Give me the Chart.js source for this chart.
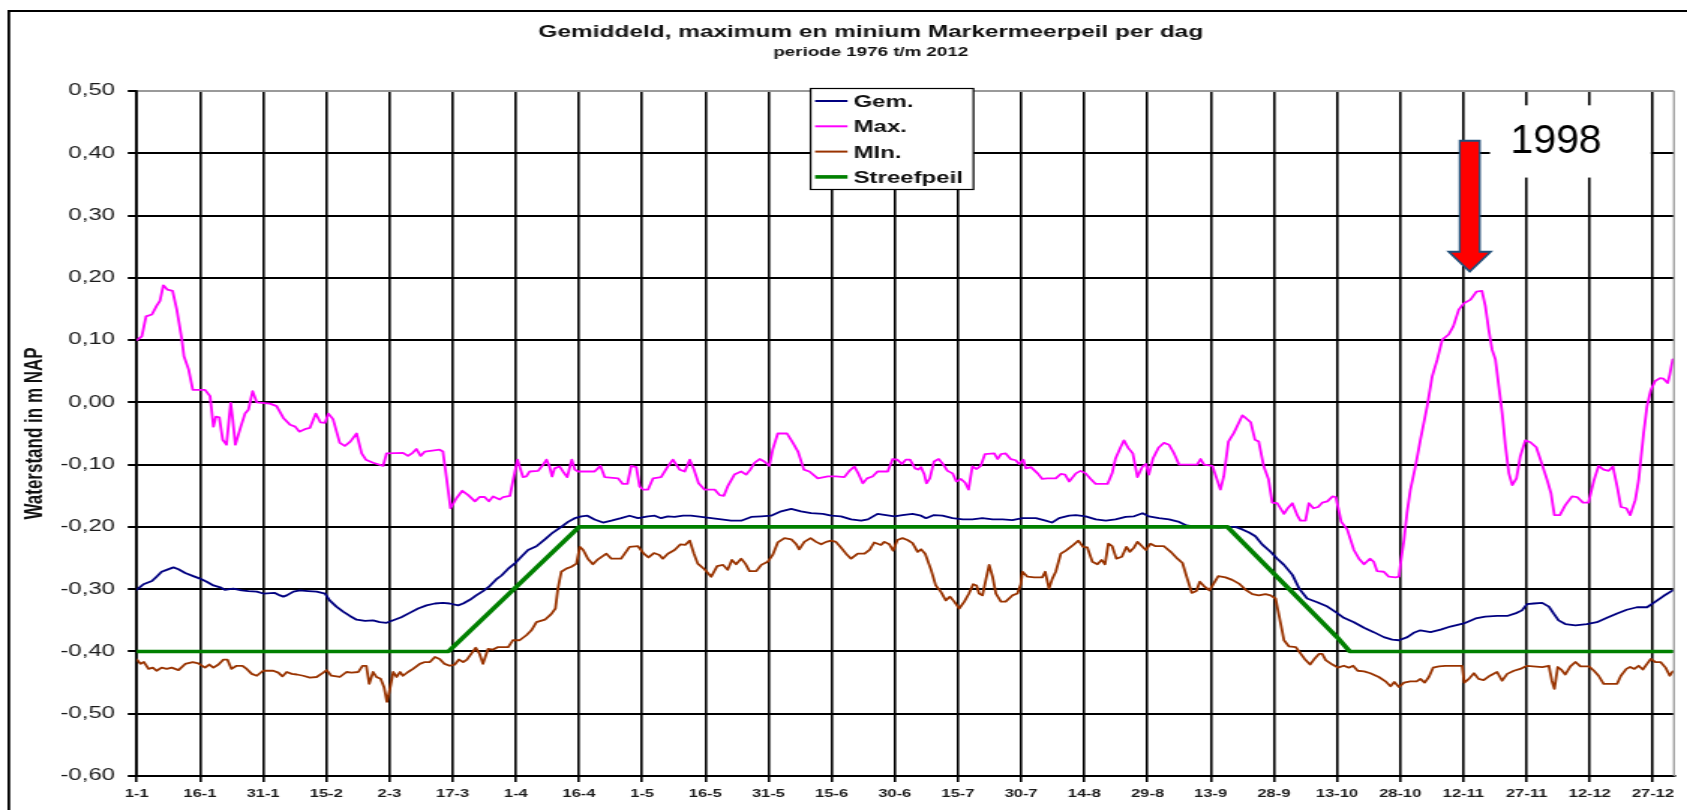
<!DOCTYPE html>
<html lang="nl">
<head>
<meta charset="utf-8">
<title>Markermeerpeil per dag</title>
<script src="https://cdn.jsdelivr.net/npm/chart.js@4.4.1/dist/chart.umd.min.js"></script>
<style>
  html, body { margin: 0; padding: 0; background: #fff; overflow: hidden; }
  /* het origineel is horizontaal uitgerekt (~1.5x) */
  #wrap { width: 1125px; height: 810px; transform: scaleX(1.49956); transform-origin: 0 0; }
</style>
</head>
<body>
<div id="wrap"><canvas id="chart" width="1125" height="810"></canvas></div>
<script>
// ---- data (dagnummer 0 = 1 jan) ----
const xTickLabels = ['1-1','16-1','31-1','15-2','2-3','17-3','1-4','16-4','1-5','16-5','31-5','15-6','30-6',
  '15-7','30-7','14-8','29-8','13-9','28-9','13-10','28-10','12-11','27-11','12-12','27-12'];

const seriesNames = ['Gem.', 'Max.', 'MIn.', 'Streefpeil'];

const gemDays = [0,1.6,3.6,4.7,5.9,7.1,8.7,9.9,11.5,13.4,15,16.6,18.2,19.8,20.9,22.9,24.9,26.5,28.5,30,32.8,34,34.8,35.6,37.2,38.7,40.7,42.7,44.7,45.8,47.4,49,50.6,52.2,54.2,56.1,57.7,59.3,60.9,62.8,64.8,66.8,68.8,70.8,72.7,74.3,76.3,77.5,79.1,80.6,82.2,83.8,85.4,86.6,88.2,89.7,91.3,92.9,94.9,96.9,98.8,100.8,102.4,104,105.6,107,108.7,110.7,112.7,115,117,119,121.4,123,124.5,126.1,127.7,129.7,131.6,134,136.4,138.8,141.1,143.5,145.9,148.3,150.6,153,155.4,157.7,160.1,162.9,164.9,167.2,169.6,172,173.6,175.9,177.9,179.9,181.8,184.2,186.2,187.4,189.3,191.3,193.7,196.1,198.4,200.8,203.2,205.6,207.9,210.3,213.5,215.8,217.3,219,221.4,223,225.3,227.7,230.1,232.4,234.8,236.8,238.8,240.3,242.7,245.1,247.5,249,251.4,254.6,256.9,259.3,260.9,262.5,264.1,265.6,267.2,269.2,270.8,272.4,274.4,276,277.9,280.3,282.7,284.7,286.6,289,291.4,293.7,296.1,298.1,299.7,301.7,303.2,304.8,307.2,309.6,311.9,315.1,317.9,320.2,323,325.4,327.7,328.9,330.1,331.7,333.7,335.3,336.4,337.6,339.2,341.6,344.3,346.7,349.1,351.5,353.8,356.2,358.6,360.6,362.5,364.7];
const gemVals = [-0.301,-0.292,-0.287,-0.280,-0.272,-0.269,-0.265,-0.268,-0.274,-0.279,-0.283,-0.288,-0.294,-0.297,-0.301,-0.299,-0.302,-0.303,-0.304,-0.307,-0.306,-0.310,-0.312,-0.310,-0.304,-0.302,-0.303,-0.304,-0.307,-0.318,-0.328,-0.336,-0.343,-0.349,-0.351,-0.350,-0.353,-0.354,-0.350,-0.345,-0.338,-0.331,-0.326,-0.323,-0.322,-0.323,-0.326,-0.323,-0.317,-0.310,-0.303,-0.295,-0.284,-0.278,-0.267,-0.259,-0.248,-0.237,-0.231,-0.220,-0.209,-0.200,-0.192,-0.186,-0.183,-0.182,-0.188,-0.193,-0.190,-0.186,-0.182,-0.186,-0.183,-0.182,-0.186,-0.183,-0.184,-0.182,-0.182,-0.184,-0.186,-0.188,-0.190,-0.190,-0.184,-0.183,-0.182,-0.175,-0.171,-0.175,-0.178,-0.179,-0.182,-0.183,-0.188,-0.190,-0.188,-0.179,-0.181,-0.183,-0.181,-0.179,-0.182,-0.186,-0.181,-0.182,-0.186,-0.188,-0.188,-0.186,-0.188,-0.188,-0.189,-0.186,-0.186,-0.190,-0.193,-0.186,-0.182,-0.181,-0.183,-0.188,-0.190,-0.188,-0.184,-0.183,-0.178,-0.183,-0.186,-0.188,-0.192,-0.197,-0.200,-0.200,-0.201,-0.200,-0.200,-0.204,-0.209,-0.215,-0.228,-0.240,-0.251,-0.261,-0.277,-0.299,-0.315,-0.321,-0.328,-0.337,-0.346,-0.353,-0.362,-0.369,-0.377,-0.381,-0.382,-0.377,-0.370,-0.366,-0.369,-0.365,-0.360,-0.355,-0.347,-0.344,-0.343,-0.343,-0.338,-0.334,-0.324,-0.323,-0.322,-0.328,-0.339,-0.350,-0.356,-0.358,-0.356,-0.353,-0.346,-0.339,-0.333,-0.329,-0.329,-0.320,-0.311,-0.302];

const maxDays = [0,1.2,2.2,3.6,4.7,5.5,6.3,7.3,8.5,9.5,10.7,11.2,12.3,13.3,16.2,17.4,18.2,18.8,19.6,20.4,21.3,22.3,22.8,23.4,24.7,25.7,26.5,27.5,28.5,31.6,33.2,34.8,36.4,37.6,38.6,39.9,41.1,42.5,43.6,44.7,45.5,46.6,48.2,49.4,50.7,52.2,53.4,54.4,56.1,58.5,59.3,63.2,64.4,65.5,66.4,67.4,68.4,71.9,72.7,73.5,74.5,75.9,77.3,78.7,80.3,81.4,82.6,83.6,84.6,86.2,87,88.6,89.7,90.4,90.9,91.7,92.5,93.3,95.3,96.5,97.3,98,98.6,99.2,100.4,101.2,102.2,103.3,104,104.8,108.7,110.1,111.1,114.3,115.4,116.5,117.4,118.6,119.4,120.2,121.4,122.6,124.5,126,127.3,128.9,130.1,131.3,132.3,133.4,134.8,137.2,138.4,139.4,140.3,141.9,143.5,144.7,145.7,146.7,147.9,149,150.2,151,152.2,154.4,155.8,157,158.4,159.7,161.7,164.1,166,168,169.2,170.4,171.3,172.4,173.4,174.7,175.9,178.3,179.5,180.6,181.7,182.6,183.6,184.8,185.6,186.2,187,187.5,188.3,189.3,190.4,191.3,192.5,193.7,194.6,195.7,196.7,197.5,198.4,199.4,200.4,201.4,203.6,204.4,205.2,206.3,207.5,208.7,209.5,210.5,211.1,212.3,213.9,215,216.2,218.2,219.4,220.4,221.4,223,224.1,225.3,226.5,227.7,230.5,231.6,232.4,233.6,234.4,235.4,236.5,237.6,238.8,239.6,240.3,241.3,242.6,243.9,245.1,246.3,247.5,251.8,252.6,253.4,255.4,256.3,257.3,258.1,259.2,260.5,262.5,263.3,264.5,265.5,266.4,267.6,268.7,269.6,270.8,272.4,273.3,274.4,275.6,276.3,277.5,278.3,279.4,280.5,281.5,282.7,283.9,284.7,286,287.4,289,290.2,291.4,292.8,293.7,294.5,296.1,297.3,298.9,299.7,300.2,300.9,301.6,302.4,303.6,304.8,306.4,307.6,308.8,310,311.5,312.6,313.9,315.1,316.7,318.1,319.4,320.2,321,321.8,322.6,323.4,324.2,325,325.8,326.6,327.6,328.5,329.7,330.9,332.3,333.3,334.9,335.8,336.6,337.9,339.2,340.8,342,343.4,344.7,346,347.1,348.3,349.5,350.5,351.5,352.4,353.7,354.6,355.8,356.6,357.8,358.6,359.5,360.5,361.7,362.5,363.5,364,364.7];
const maxVals = [0.100,0.106,0.138,0.141,0.155,0.163,0.188,0.181,0.179,0.149,0.101,0.074,0.053,0.020,0.020,0.010,-0.039,-0.023,-0.024,-0.060,-0.068,-0.001,-0.028,-0.068,-0.039,-0.018,-0.012,0.018,0.000,-0.002,-0.006,-0.025,-0.036,-0.039,-0.047,-0.043,-0.041,-0.018,-0.032,-0.033,-0.018,-0.027,-0.065,-0.070,-0.063,-0.050,-0.082,-0.092,-0.097,-0.102,-0.082,-0.081,-0.086,-0.081,-0.075,-0.086,-0.079,-0.076,-0.079,-0.119,-0.170,-0.154,-0.142,-0.149,-0.159,-0.152,-0.152,-0.159,-0.151,-0.156,-0.152,-0.150,-0.114,-0.092,-0.103,-0.120,-0.119,-0.111,-0.110,-0.100,-0.092,-0.103,-0.119,-0.106,-0.103,-0.111,-0.120,-0.092,-0.108,-0.111,-0.111,-0.102,-0.120,-0.122,-0.131,-0.131,-0.102,-0.104,-0.135,-0.140,-0.140,-0.122,-0.120,-0.104,-0.092,-0.108,-0.111,-0.092,-0.108,-0.130,-0.140,-0.140,-0.149,-0.150,-0.135,-0.116,-0.111,-0.116,-0.108,-0.097,-0.091,-0.095,-0.102,-0.076,-0.050,-0.050,-0.065,-0.079,-0.108,-0.111,-0.122,-0.119,-0.119,-0.120,-0.110,-0.103,-0.114,-0.130,-0.122,-0.119,-0.111,-0.111,-0.091,-0.092,-0.099,-0.092,-0.092,-0.106,-0.108,-0.104,-0.116,-0.130,-0.122,-0.095,-0.091,-0.098,-0.110,-0.114,-0.127,-0.123,-0.129,-0.140,-0.103,-0.107,-0.102,-0.083,-0.082,-0.091,-0.083,-0.082,-0.091,-0.093,-0.099,-0.092,-0.106,-0.104,-0.114,-0.123,-0.122,-0.122,-0.115,-0.116,-0.127,-0.114,-0.110,-0.114,-0.123,-0.131,-0.131,-0.114,-0.090,-0.072,-0.061,-0.073,-0.082,-0.120,-0.103,-0.099,-0.116,-0.090,-0.073,-0.065,-0.068,-0.082,-0.100,-0.100,-0.091,-0.100,-0.102,-0.120,-0.140,-0.119,-0.063,-0.049,-0.021,-0.025,-0.032,-0.060,-0.063,-0.103,-0.123,-0.161,-0.162,-0.179,-0.170,-0.162,-0.182,-0.190,-0.190,-0.162,-0.170,-0.168,-0.161,-0.159,-0.151,-0.152,-0.192,-0.204,-0.237,-0.251,-0.260,-0.251,-0.256,-0.271,-0.272,-0.280,-0.281,-0.280,-0.253,-0.221,-0.178,-0.141,-0.103,-0.060,-0.006,0.042,0.069,0.101,0.109,0.122,0.149,0.159,0.165,0.178,0.179,0.155,0.117,0.085,0.069,0.026,-0.017,-0.071,-0.114,-0.133,-0.122,-0.087,-0.061,-0.064,-0.072,-0.092,-0.125,-0.146,-0.181,-0.181,-0.165,-0.151,-0.152,-0.161,-0.161,-0.125,-0.102,-0.108,-0.110,-0.103,-0.135,-0.168,-0.170,-0.181,-0.157,-0.125,-0.049,-0.006,0.020,0.034,0.039,0.038,0.031,0.045,0.069];

const minDays = [0,0.9,1.7,2.8,3.8,4.7,5.9,7.1,8.3,9.9,11.5,13.3,14.6,16.2,17.2,18.2,19.4,20.6,21.5,22.5,23.7,25.1,26.1,27.3,28.5,30,32.4,33.6,34.6,35.6,36.8,38,39.5,41.1,42.7,44.3,45.1,46.2,48.2,49.8,51,52.6,53.6,54.5,55.2,56.1,56.9,57.9,58.7,59.4,60.1,60.9,61.7,62.5,63.2,64.4,65.6,67.2,68.4,69.6,70.8,71.9,73.1,74.3,75.5,76.5,77.5,78.4,79.4,80.5,81.4,82.2,83.4,84.6,85.8,88.2,89.3,90.9,92.5,93.7,94.9,96.9,98.4,99.4,100,100.8,102,103.2,104.4,105.2,106,107.1,108.3,109.5,111.5,112.7,115,117,119,120.4,121.5,122.8,124.1,124.9,126.1,127.7,129.1,130.2,131.3,132.3,133.2,134.8,136.4,137.8,139.2,140.3,141.3,142.3,143.5,144.5,145.5,147.1,148.3,149.8,151,152.2,153.8,155.4,156.6,157.3,158.5,160,161.3,162.5,163.7,164.9,166,167.2,168.4,169.6,171.2,172.8,174,175.1,176.7,177.5,178.7,179.6,180.6,181.8,183,184.2,185.4,186.2,187.2,188.6,189.7,190.9,192.1,193.1,194.1,195.3,196.5,197.6,198.6,199.4,200,200.8,201.6,202.4,203.2,204,205.2,206.3,207.9,209.1,209.9,210.3,211.5,213.1,215,215.7,216.6,217.4,218.2,219.4,220.6,222,223.6,224.7,225.7,226.9,228.1,229.1,229.9,230.7,231.6,232.6,233.9,235,235.8,236.8,237.6,238.8,239.6,240.7,241.9,243.9,245.5,247.1,248.3,249.2,250.5,251.6,252.4,253.4,254.7,255.8,256.8,258.5,260.1,261.7,263.3,264.9,266.4,268,269.2,270.4,271.6,272.4,273.6,275.2,276.4,277.3,278.6,279.5,280.7,281.5,282.3,283.9,285.2,286.6,287.8,288.8,289.9,291.4,292.9,294.9,296.5,297.7,298.6,299.7,300.9,302.4,303.9,304.8,305.8,306.8,307.8,309.2,310.7,314.7,315.2,316.3,317.5,318.6,319.8,321.3,323,324.2,325.4,327,328.5,330.1,333.7,335.3,336,336.6,337.4,338.2,339.2,340.4,341.6,342.8,344.8,346,347.1,348.3,351.5,352.4,353.7,354.6,355.6,356.6,357.6,358.6,359.5,360.6,361.8,363,364,364.7];
const minVals = [-0.413,-0.420,-0.417,-0.428,-0.426,-0.431,-0.426,-0.428,-0.426,-0.430,-0.420,-0.417,-0.419,-0.426,-0.421,-0.426,-0.421,-0.413,-0.413,-0.428,-0.423,-0.423,-0.428,-0.436,-0.439,-0.431,-0.431,-0.434,-0.440,-0.433,-0.436,-0.437,-0.439,-0.442,-0.441,-0.434,-0.430,-0.439,-0.441,-0.433,-0.434,-0.433,-0.423,-0.423,-0.452,-0.433,-0.441,-0.444,-0.457,-0.481,-0.460,-0.433,-0.441,-0.433,-0.439,-0.433,-0.428,-0.420,-0.417,-0.417,-0.409,-0.412,-0.420,-0.423,-0.421,-0.413,-0.417,-0.413,-0.404,-0.394,-0.404,-0.420,-0.396,-0.397,-0.393,-0.393,-0.382,-0.382,-0.374,-0.366,-0.353,-0.349,-0.340,-0.331,-0.299,-0.272,-0.267,-0.264,-0.259,-0.232,-0.237,-0.251,-0.260,-0.252,-0.243,-0.251,-0.251,-0.232,-0.231,-0.243,-0.249,-0.242,-0.245,-0.251,-0.243,-0.237,-0.228,-0.229,-0.222,-0.243,-0.259,-0.268,-0.280,-0.263,-0.261,-0.269,-0.253,-0.260,-0.251,-0.259,-0.271,-0.271,-0.261,-0.256,-0.245,-0.225,-0.218,-0.220,-0.228,-0.236,-0.224,-0.218,-0.224,-0.228,-0.224,-0.222,-0.224,-0.233,-0.243,-0.251,-0.243,-0.243,-0.237,-0.225,-0.229,-0.224,-0.228,-0.238,-0.221,-0.218,-0.221,-0.226,-0.240,-0.236,-0.243,-0.269,-0.294,-0.304,-0.318,-0.312,-0.320,-0.331,-0.320,-0.307,-0.292,-0.294,-0.307,-0.310,-0.285,-0.261,-0.280,-0.307,-0.320,-0.320,-0.310,-0.307,-0.292,-0.272,-0.280,-0.281,-0.281,-0.272,-0.299,-0.283,-0.272,-0.243,-0.238,-0.231,-0.222,-0.232,-0.233,-0.256,-0.260,-0.253,-0.260,-0.227,-0.231,-0.251,-0.248,-0.232,-0.240,-0.233,-0.224,-0.232,-0.237,-0.227,-0.231,-0.231,-0.240,-0.251,-0.258,-0.278,-0.306,-0.303,-0.288,-0.295,-0.302,-0.290,-0.279,-0.281,-0.285,-0.291,-0.301,-0.308,-0.310,-0.308,-0.310,-0.315,-0.355,-0.382,-0.392,-0.393,-0.404,-0.412,-0.421,-0.413,-0.404,-0.404,-0.414,-0.421,-0.426,-0.423,-0.426,-0.423,-0.431,-0.432,-0.435,-0.441,-0.448,-0.456,-0.449,-0.457,-0.450,-0.448,-0.448,-0.444,-0.450,-0.441,-0.426,-0.424,-0.423,-0.423,-0.450,-0.444,-0.435,-0.444,-0.446,-0.439,-0.433,-0.447,-0.436,-0.431,-0.428,-0.423,-0.425,-0.423,-0.447,-0.460,-0.425,-0.429,-0.437,-0.424,-0.417,-0.424,-0.424,-0.431,-0.439,-0.452,-0.452,-0.439,-0.428,-0.425,-0.428,-0.423,-0.429,-0.420,-0.412,-0.417,-0.417,-0.426,-0.439,-0.432];

const streefDays = [0, 74, 105, 259, 285, 288, 364.5];
const streefVals = [-0.40, -0.40, -0.20, -0.20, -0.377, -0.40, -0.40];

// annotatie (pijl + jaartal)
const noteText = '1998';
const arrowDay = 316.5, arrowTop = 0.42, arrowBase = 0.242, arrowTip = 0.21;
const noteBoxDays = [321.3, 359.5], noteBoxVals = [0.477, 0.361];
const noteDay = 337, noteVal = 0.418;
const legendDay = 160;

const TITLE = 'Gemiddeld, maximum en minium Markermeerpeil per dag';
const SUBTITLE = 'periode 1976 t/m 2012';
const Y_TITLE = 'Waterstand in m NAP';

const STRETCH = 1.49956;
const FONT = '"Liberation Sans", Arial, Helvetica, sans-serif';
const colors = ['#000080', '#ff00ff', '#993300', '#008000'];
const widths = [1.8, 1.8, 1.8, 3.6];

function pts(days, vals){ return days.map((d, i) => ({ x: d, y: vals[i] })); }

const decor = {
  id: 'decor',
  beforeDraw(chart){
    const { ctx, width, height } = chart;
    ctx.save();
    ctx.fillStyle = '#fff';
    ctx.fillRect(0, 0, width, height);
    // kader om de grafiek
    ctx.fillStyle = '#000';
    ctx.fillRect(5, 10, width, 2);
    ctx.fillRect(5, 10, 1.8, height);
    // titels
    ctx.fillStyle = '#111';
    ctx.textAlign = 'center';
    ctx.textBaseline = 'middle';
    ctx.font = 'bold 16.3px ' + FONT;
    ctx.fillText(TITLE, 580.7, 32.5);
    ctx.font = 'bold 12.5px ' + FONT;
    ctx.fillText(SUBTITLE, 580.7, 52.5);
    ctx.restore();
  },
  afterDatasetsDraw(chart){
    const { ctx, chartArea: a, scales: { x, y } } = chart;
    ctx.save();

    // grijze rand rechts
    ctx.strokeStyle = '#9a9a9a';
    ctx.lineWidth = 1.3;
    ctx.beginPath(); ctx.moveTo(a.right, a.top); ctx.lineTo(a.right, a.bottom); ctx.stroke();

    // legenda
    const lx = x.getPixelForValue(legendDay), ly = a.top - 2.5;
    ctx.fillStyle = '#fff';
    ctx.fillRect(lx, ly, 108.6, 101);
    ctx.strokeStyle = '#000';
    ctx.lineWidth = 1.2;
    ctx.strokeRect(lx, ly, 108.6, 101);
    ctx.font = 'bold 16px ' + FONT;
    ctx.textAlign = 'left';
    ctx.textBaseline = 'middle';
    seriesNames.forEach((name, i) => {
      const ry = ly + 12.5 + i * 25.3;
      ctx.strokeStyle = colors[i];
      ctx.lineWidth = i === 3 ? 3.6 : 2;
      ctx.beginPath(); ctx.moveTo(lx + 3, ry); ctx.lineTo(lx + 24.6, ry); ctx.stroke();
      ctx.fillStyle = '#111';
      ctx.fillText(name, lx + 28.6, ry + 1.5);
    });

    // wit vlak met jaartal
    const bx0 = x.getPixelForValue(noteBoxDays[0]), bx1 = x.getPixelForValue(noteBoxDays[1]);
    const by0 = y.getPixelForValue(noteBoxVals[0]), by1 = y.getPixelForValue(noteBoxVals[1]);
    ctx.fillStyle = '#fff';
    ctx.fillRect(bx0, by0, bx1 - bx0, by1 - by0);
    ctx.save();
    ctx.translate(x.getPixelForValue(noteDay), y.getPixelForValue(noteVal));
    ctx.scale(1 / STRETCH, 1);
    ctx.fillStyle = '#000';
    ctx.textAlign = 'center';
    ctx.font = '41px ' + FONT;
    ctx.fillText(noteText, 0, 0);
    ctx.restore();

    // rode pijl (niet uitgerekt)
    const yt = y.getPixelForValue(arrowTop), yb = y.getPixelForValue(arrowBase), yp = y.getPixelForValue(arrowTip);
    ctx.save();
    ctx.translate(x.getPixelForValue(arrowDay), 0);
    ctx.scale(1 / STRETCH, 1);
    ctx.beginPath();
    ctx.moveTo(-10, yt); ctx.lineTo(10, yt); ctx.lineTo(10, yb); ctx.lineTo(21, yb);
    ctx.lineTo(0, yp); ctx.lineTo(-21, yb); ctx.lineTo(-10, yb); ctx.closePath();
    ctx.fillStyle = '#ff0000';
    ctx.fill();
    ctx.strokeStyle = '#1f4e79';
    ctx.lineWidth = 2;
    ctx.stroke();
    ctx.restore();

    ctx.restore();
  }
};

document.addEventListener('DOMContentLoaded', () => {
  Chart.defaults.font.family = FONT;
  Chart.defaults.color = '#1a1a1a';

  const sets = [
    { label: seriesNames[3], data: pts(streefDays, streefVals), c: 3 },
    { label: seriesNames[0], data: pts(gemDays, gemVals), c: 0 },
    { label: seriesNames[2], data: pts(minDays, minVals), c: 2 },
    { label: seriesNames[1], data: pts(maxDays, maxVals), c: 1 }
  ].map(s => ({
    label: s.label, data: s.data,
    borderColor: colors[s.c], borderWidth: widths[s.c],
    pointRadius: 0, tension: 0, fill: false,
    borderJoinStyle: 'round', borderCapStyle: 'round'
  }));

  new Chart(document.getElementById('chart'), {
    type: 'line',
    data: { datasets: sets },
    options: {
      responsive: false,
      animation: false,
      devicePixelRatio: 1,
      layout: { padding: { top: 91, right: 8.7, left: 0, bottom: 0 } },
      plugins: { legend: { display: false }, tooltip: { enabled: false }, title: { display: false } },
      scales: {
        x: {
          type: 'linear', min: 0, max: 365,
          afterFit: s => { s.height = 34; },
          grid: { color: '#000', lineWidth: 1.6, tickLength: 6, tickColor: '#000' },
          border: { color: '#000', width: 1.8 },
          ticks: {
            stepSize: 15, includeBounds: false, autoSkip: false, maxRotation: 0, maxTicksLimit: 100,
            padding: 5, color: '#1a1a1a', font: { size: 11, weight: 'bold' },
            callback: v => xTickLabels[Math.round(v / 15)]
          }
        },
        y: {
          min: -0.6, max: 0.5,
          afterFit: s => { s.width = 91.2; },
          grid: {
            color: c => (c.tick && Math.abs(c.tick.value - 0.5) < 1e-6) ? '#9a9a9a' : '#000',
            lineWidth: 2, tickLength: 6, tickColor: '#000'
          },
          border: { color: '#000', width: 1.8 },
          ticks: {
            stepSize: 0.1, padding: 8.5, color: '#1a1a1a', font: { size: 16 },
            callback: v => (Math.abs(v) < 1e-9 ? 0 : v).toFixed(2).replace('.', ',')
          },
          title: {
            display: true, text: Y_TITLE, color: '#111',
            font: { size: 17, weight: 'bold' }, padding: { top: 13, bottom: 0 }
          }
        }
      }
    },
    plugins: [decor]
  });
});
</script>
</body>
</html>
